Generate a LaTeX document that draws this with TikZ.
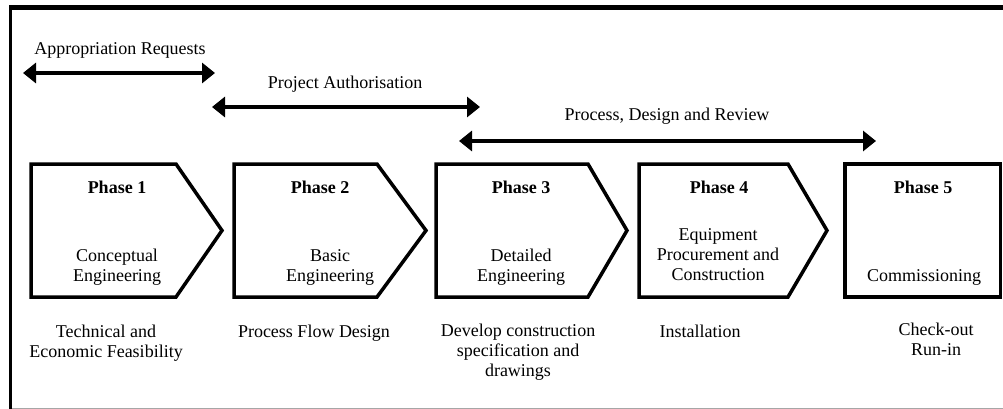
\documentclass[tikz,border=0pt]{standalone}
\usepackage{fontspec}
\setmainfont{Liberation Serif}
\usetikzlibrary{arrows.meta}
\begin{document}
\begin{tikzpicture}[x=1pt,y=-1pt,
  phasebox/.style={draw, line width=3.5pt, line join=miter},
  span/.style={line width=4pt,
    {Triangle[length=13pt,width=20pt]}-{Triangle[length=13pt,width=20pt]}},
  txt/.style={font=\fontsize{18}{20}\selectfont, inner sep=0pt, anchor=base, align=center},
  head/.style={txt, font=\fontsize{18}{20}\selectfont\bfseries}
]
\useasboundingbox (0,0) rectangle (1003,409);

% outer frame
\draw[line width=4.5pt] (9,7.5) -- (1003,7.5);
\draw[line width=3.5pt] (10.5,5.5) -- (10.5,409);
\draw[black!35, line width=1.2pt] (12,408.4) -- (1003,408.4);

% spans of the three activities
\coordinate (ar-l) at (23,73);   \coordinate (ar-r) at (215,73);
\coordinate (pa-l) at (212,107); \coordinate (pa-r) at (480,107);
\coordinate (pd-l) at (459,141); \coordinate (pd-r) at (876,141);
\draw[span] (ar-l) -- (ar-r);
\draw[span] (pa-l) -- (pa-r);
\draw[span] (pd-l) -- (pd-r);
\node[txt] (ar) at (120,55) {Appropriation Requests};
\node[txt] (pa) at (345,89) {Project Authorisation};
\node[txt] (pd) at (667,121) {Process, Design and Review};

% phase chevrons
\draw[phasebox] (31,164) -- (176,164) -- (222,230.5) -- (176,297) -- (31,297) -- cycle;
\draw[phasebox] (234,164) -- (377,164) -- (426,230.5) -- (377,297) -- (234,297) -- cycle;
\draw[phasebox] (436,164) -- (588,164) -- (627,230.5) -- (588,297) -- (436,297) -- cycle;
\draw[phasebox] (639,164) -- (788,164) -- (827,230.5) -- (788,297) -- (639,297) -- cycle;
\draw[phasebox] (845,164) rectangle (1000.5,297);

% phase titles
\node[head] (h1) at (117,193) {Phase 1};
\node[head] (h2) at (320,193) {Phase 2};
\node[head] (h3) at (521,193) {Phase 3};
\node[head] (h4) at (719,193) {Phase 4};
\node[head] (h5) at (923,193) {Phase 5};

% phase contents (anchored at the baseline of the last line)
\node[txt] (b1) at (117,281) {Conceptual\\Engineering};
\node[txt] (b2) at (330,281) {Basic\\Engineering};
\node[txt] (b3) at (521,281) {Detailed\\Engineering};
\node[txt] (b4) at (718,280) {Equipment\\Procurement and\\Construction};
\node[txt] (b5) at (924,281) {Commissioning};

% outcomes below the phases
\node[txt] (o1) at (106,357) {Technical and\\Economic Feasibility};
\node[txt] (o2) at (314,337) {Process Flow Design};
\node[txt] (o3) at (518,376) {Develop construction\\specification and\\drawings};
\node[txt] (o4) at (700,337) {Installation};
\node[txt] (o5) at (936,355) {Check-out\\Run-in};
\end{tikzpicture}
\end{document}
